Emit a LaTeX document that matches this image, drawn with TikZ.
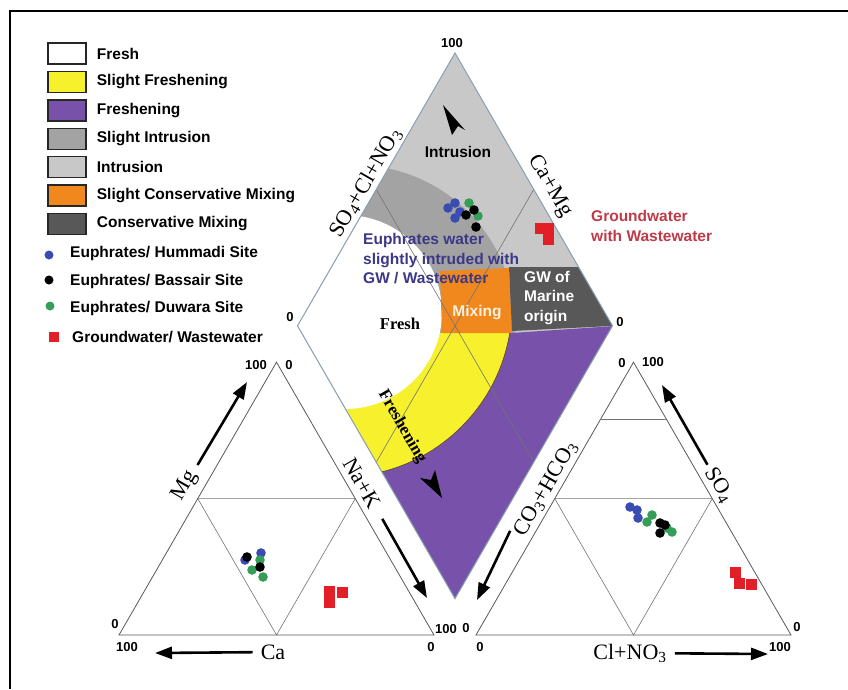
\documentclass[tikz,border=0pt]{standalone}
\usepackage{fontspec}
\setmainfont{Liberation Serif}
\setsansfont{Liberation Sans}
\usetikzlibrary{positioning,arrows.meta,calc}

\definecolor{intrusion}{RGB}{200,200,200}
\definecolor{slightintr}{RGB}{163,163,163}
\definecolor{freshening}{RGB}{120,82,170}
\definecolor{slightfresh}{RGB}{246,240,45}
\definecolor{mixorange}{RGB}{240,136,30}
\definecolor{consmix}{RGB}{88,88,88}
\definecolor{yellowedge}{RGB}{95,70,45}
\definecolor{hummadi}{RGB}{58,75,178}
\definecolor{duwara}{RGB}{55,158,90}
\definecolor{gwred}{RGB}{226,30,38}
\definecolor{navytext}{RGB}{60,56,135}
\definecolor{redtext}{RGB}{190,58,70}
\definecolor{edgeblue}{RGB}{135,160,178}

\begin{document}
\begin{tikzpicture}[x=1pt,y=-1pt,node distance=6pt,
  lbl/.style={font=\sffamily\bfseries\fontsize{15.5}{19.5}\selectfont, inner sep=1pt},
  num/.style={font=\sffamily\bfseries\fontsize{13}{15}\selectfont, inner sep=1pt},
  axis/.style={font=\fontsize{22}{24}\selectfont, inner sep=1pt},
  key/.style={draw=black!85, line width=1.4pt, minimum width=38pt, minimum height=21pt, inner sep=0pt},
  tri/.style={draw=black!65, line width=0.8pt},
  grid/.style={draw=black!55, line width=0.6pt},
  bigarrow/.style={line width=2.6pt, -{Triangle[length=17pt,width=12pt]}}]
  \useasboundingbox (0,0) rectangle (848,689);
  \draw[line width=2pt] (10,689) -- (10,11) -- (848,11);

  % corners of the three plots
  \coordinate (A) at (119,635);   \coordinate (B) at (434,635);   \coordinate (C) at (276.5,362.2);
  \coordinate (D) at (476,635);   \coordinate (E) at (791,635);   \coordinate (F) at (633.5,362.2);
  \coordinate (L) at (297.5,325.8); \coordinate (R) at (612.5,325.8);
  \coordinate (T) at (455,53);    \coordinate (P) at (455,598.6);

  % diamond fields
  \begin{scope}
    \clip (T) -- (R) -- (P) -- (L) -- cycle;
    \fill[intrusion] (280,40) rectangle (630,620);
    \fill[slightintr] (355,325) circle[radius=160];
    \fill[freshening] (280,333) -- (511,333) -- (630,325) -- (630,620) -- (280,620) -- cycle;
    \begin{scope}
      \clip (280,333) -- (511,333) -- (630,325) -- (630,620) -- (280,620) -- cycle;
      \filldraw[fill=slightfresh, draw=yellowedge, line width=0.7pt] (340,305) circle[radius=172];
    \end{scope}
    \fill[white] (345,312) circle[radius=97];
    \fill[mixorange] (440,271) -- (509,268) -- (512,333) -- (442,333) -- cycle;
    \fill[consmix] (509,267) -- (630,267) -- (630,325) -- (512,331) -- cycle;
    \draw[grid] ($(T)!0.5!(L)$) -- ($(R)!0.5!(P)$);
    \draw[grid] ($(T)!0.5!(R)$) -- ($(L)!0.5!(P)$);
  \end{scope}
  \draw[edgeblue, line width=1pt] (T) -- (R) -- (P) -- (L) -- cycle;

  % cation and anion triangles
  \draw[tri] (A) -- (B) -- (C) -- cycle;
  \draw[grid] ($(A)!0.5!(C)$) -- ($(B)!0.5!(C)$) -- ($(A)!0.5!(B)$) -- cycle;
  \draw[tri] (D) -- (E) -- (F) -- cycle;
  \draw[grid] ($(D)!0.5!(F)$) -- ($(E)!0.5!(F)$) -- ($(D)!0.5!(E)$) -- cycle;
  \draw[grid] ($(D)!0.79!(F)$) -- ($(E)!0.79!(F)$);

  % trend heads
  \fill (443,105) -- (465,130) -- (458,126) -- (452,135) -- cycle;
  \fill (442,498) -- (420,478) -- (431,480) -- (435,470) -- cycle;

  % field labels
  \node[lbl] (intr) at (458,152) {Intrusion};
  \node[lbl, text=navytext, align=left, anchor=west] (euph) at (362,259) {Euphrates water\\slightly intruded with\\GW / Wastewater};
  \node[lbl, text=white, align=left, anchor=west] (marine) at (523,298) {GW of\\Marine\\origin};
  \node[lbl, text=orange!12] (mix) at (477,313) {Mixing};
  \node[font=\bfseries\fontsize{16.5}{19}\selectfont] (fresh) at (400,324) {Fresh};
  \node[font=\bfseries\fontsize{17}{19}\selectfont, rotate=-60] (freshen) at (402,427) {Freshening};
  \node[lbl, text=redtext, align=left, anchor=west] (gwww) at (590,226) {Groundwater\\with Wastewater};

  % axis labels
  \node[axis, rotate=60] (soax) at (366,183) {SO\textsubscript{4}+Cl+NO\textsubscript{3}};
  \node[axis, rotate=-60] (camg) at (550,186) {Ca+Mg};
  \node[axis, rotate=-60] (nak) at (362,483) {Na+K};
  \node[axis, rotate=60] (cohco) at (546,489) {CO\textsubscript{3}+HCO\textsubscript{3}};
  \node[axis, rotate=60] (mg) at (185,486) {Mg};
  \node[axis, rotate=-60] (sofour) at (719,485) {SO\textsubscript{4}};
  \node[axis] (ca) at (273,652) {Ca};
  \node[axis] (clno) at (630,653) {Cl+NO\textsubscript{3}};

  \coordinate (naktip) at (427,598);
  \coordinate (cotip) at (477,600);
  \coordinate (mgtip) at (247,382);
  \coordinate (sotip) at (662,385);
  \coordinate (catip) at (155,653);
  \coordinate (cltip) at (768,654);
  \draw[bigarrow, shorten <=13pt] (nak) -- (naktip);
  \draw[bigarrow] (cohco.north west) -- (cotip);
  \draw[bigarrow, shorten <=8pt] (mg) -- (mgtip);
  \draw[bigarrow, shorten <=4pt] (sofour) -- (sotip);
  \draw[bigarrow, shorten <=7pt] (ca) -- (catip);
  \draw[bigarrow, shorten <=7pt] (clno) -- (cltip);

  % scale values
  \node[num] at (452,43) {100};
  \node[num] at (290,317) {0};
  \node[num] at (620,322) {0};
  \node[num] at (256,365) {100};
  \node[num] at (289,365) {0};
  \node[num] at (115,624) {0};
  \node[num] at (127,647) {100};
  \node[num] at (446,629) {100};
  \node[num] at (431,647) {0};
  \node[num] at (622,363) {0};
  \node[num] at (653,362) {100};
  \node[num] at (466,628) {0};
  \node[num] at (480,647) {0};
  \node[num] at (797,627) {0};
  \node[num] at (780,647) {100};

  % samples
  \foreach \x/\y in {448/208,455/203,455/218,460/212, 245/560,261/553, 630/507,637/510,638/518}
    \fill[hummadi] (\x,\y) circle[radius=4.8];
  \foreach \x/\y in {469/203,478/216, 260/560,252/570,263/577, 652/515,647/522,672/532,667/528}
    \fill[duwara] (\x,\y) circle[radius=4.8];
  \foreach \x/\y in {466/215,474/210,476/227, 247/557,260/567, 660/523,665/525,660/533}
    \fill[black] (\x,\y) circle[radius=4.8];
  \foreach \x/\y in {540/228,548/228,548/239, 329/591,342/592,329/602, 735/572,739/583,751/584}
    \fill[gwred] (\x-5.5,\y-5.5) rectangle (\x+5.5,\y+5.5);

  % legend
  \node[key, fill=white] (kfresh) at (67,53.5) {};
  \node[key, fill=slightfresh, below=of kfresh] (kslfresh) {};
  \node[key, fill=freshening, below=of kslfresh] (kfreshen) {};
  \node[key, fill=slightintr, below=of kfreshen] (kslintr) {};
  \node[key, fill=intrusion, below=of kslintr] (kintr) {};
  \node[key, fill=mixorange, below=of kintr] (kslmix) {};
  \node[key, fill=consmix, below=of kslmix] (kmix) {};
  \node[lbl, right=9pt of kfresh] {Fresh};
  \node[lbl, right=9pt of kslfresh] {Slight Freshening};
  \node[lbl, right=9pt of kfreshen] {Freshening};
  \node[lbl, right=9pt of kslintr] {Slight Intrusion};
  \node[lbl, right=9pt of kintr] {Intrusion};
  \node[lbl, right=9pt of kslmix] {Slight Conservative Mixing};
  \node[lbl, right=9pt of kmix] {Conservative Mixing};

  \fill[hummadi] (49,255) circle[radius=4.5];
  \fill[black] (49,280) circle[radius=4.5];
  \fill[duwara] (50,306) circle[radius=4.5];
  \fill[gwred] (49,332) rectangle (59,342);
  \node[lbl, anchor=west] (lhum) at (69,253) {Euphrates/ Hummadi Site};
  \node[lbl, anchor=west] (lbas) at (69,281) {Euphrates/ Bassair Site};
  \node[lbl, anchor=west] (lduw) at (69,308) {Euphrates/ Duwara Site};
  \node[lbl, anchor=west] (lgw) at (71,337) {Groundwater/ Wastewater};
\end{tikzpicture}
\end{document}
